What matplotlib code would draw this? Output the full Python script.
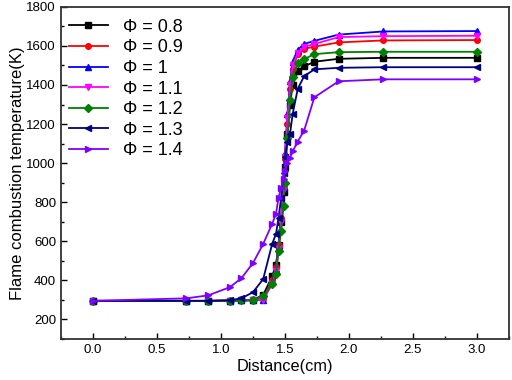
import matplotlib
matplotlib.use("Agg")
import matplotlib.pyplot as plt
from matplotlib.ticker import MultipleLocator

plt.rcParams["font.family"] = ["Liberation Sans", "DejaVu Sans"]

distance = [0.0, 0.73, 0.9, 1.07, 1.16, 1.25, 1.33, 1.40, 1.43, 1.45, 1.47,
            1.49, 1.50, 1.52, 1.54, 1.56, 1.60, 1.65, 1.73, 1.92, 2.27, 3.0]

phi_labels = ["0.8", "0.9", "1", "1.1", "1.2", "1.3", "1.4"]

t_08 = [295, 295, 295, 296, 297, 300, 325, 420, 480, 580, 700,
        850, 980, 1150, 1300, 1400, 1470, 1495, 1519, 1534, 1539, 1539]
t_09 = [295, 295, 295, 296, 297, 298, 305, 400, 470, 580, 720,
        880, 1020, 1200, 1380, 1480, 1560, 1585, 1596, 1618, 1628, 1630]
t_10 = [295, 295, 295, 296, 297, 298, 300, 390, 460, 570, 720,
        880, 1050, 1250, 1420, 1520, 1580, 1610, 1626, 1658, 1674, 1676]
t_11 = [295, 295, 295, 296, 297, 298, 300, 380, 450, 560, 700,
        870, 1030, 1230, 1400, 1500, 1565, 1595, 1610, 1645, 1650, 1652]
t_12 = [295, 295, 295, 296, 297, 300, 318, 380, 431, 550, 653,
        781, 900, 1131, 1321, 1440, 1512, 1532, 1558, 1568, 1570, 1570]
t_13 = [295, 295, 295, 298, 308, 339, 406, 586, 637, 720, 820,
        950, 1030, 1110, 1150, 1250, 1380, 1445, 1480, 1488, 1491, 1491]
t_14 = [295, 308, 323, 365, 411, 488, 586, 689, 740, 822, 874,
        920, 961, 1000, 1028, 1060, 1110, 1167, 1337, 1419, 1429, 1429]

series = [t_08, t_09, t_10, t_11, t_12, t_13, t_14]
colors = ["#000000", "#ff0000", "#0000ff", "#ff00ff", "#008000", "#000080", "#8000ff"]
markers = ["s", "o", "^", "v", "D", "<", ">"]

fig = plt.figure(figsize=(5.12, 3.8), dpi=100)
ax = fig.add_axes([0.119, 0.108, 0.875, 0.874])

for vals, lab, c, m in zip(series, phi_labels, colors, markers):
    ax.plot(distance, vals, color=c, marker=m, markersize=4, linewidth=1.3,
            label=f"Φ = {lab}")

ax.set_xlim(-0.25, 3.25)
ax.set_ylim(100, 1800)
ax.xaxis.set_major_locator(MultipleLocator(0.5))
ax.xaxis.set_minor_locator(MultipleLocator(0.25))
ax.yaxis.set_major_locator(MultipleLocator(200))
ax.yaxis.set_minor_locator(MultipleLocator(100))
ax.xaxis.set_major_formatter(plt.FormatStrFormatter("%.1f"))
ax.tick_params(which="both", direction="in", labelsize=9.5)
ax.tick_params(which="major", length=4, width=1)
ax.tick_params(which="minor", length=2.5, width=1)
for s in ax.spines.values():
    s.set_linewidth(1.3)
    s.set_color("#333333")

ax.set_xlabel("Distance(cm)", fontsize=11.7, labelpad=2)
ax.set_ylabel("Flame combustion temperature(K)", fontsize=12, labelpad=1)

ax.legend(loc="upper left", frameon=False, fontsize=13, handlelength=2.2,
          labelspacing=0.2, borderaxespad=0.3, handletextpad=0.8,
          borderpad=0.3, bbox_to_anchor=(-0.007, 0.997))

fig.savefig("out.png", dpi=100)
